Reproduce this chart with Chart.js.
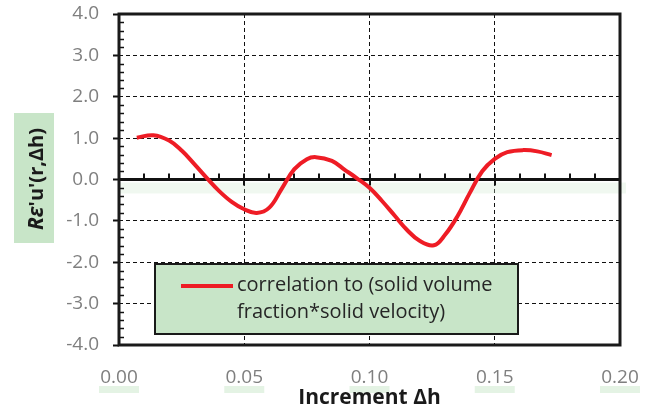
<!DOCTYPE html>
<html>
<head>
<meta charset="utf-8">
<script src="https://cdn.jsdelivr.net/npm/chart.js@4/dist/chart.umd.min.js"></script>
<style>
  html, body { margin: 0; padding: 0; background: #fff; }
  #wrap { width: 657px; height: 411px; position: relative; }
</style>
</head>
<body>
<div id="wrap"><canvas id="c" width="657" height="411"></canvas></div>
<script>
// ---- data ----
const increments = [0.0071, 0.0137, 0.020, 0.025, 0.030, 0.035, 0.040, 0.045, 0.050, 0.055,
                    0.060, 0.065, 0.070, 0.075, 0.0786, 0.085, 0.090, 0.095, 0.100, 0.105,
                    0.110, 0.115, 0.120, 0.1257, 0.130, 0.135, 0.140, 0.145, 0.150, 0.155,
                    0.1614, 0.167, 0.1727];
const correlation = [1.01, 1.07, 0.94, 0.70, 0.38, 0.04, -0.28, -0.54, -0.72, -0.81,
                     -0.68, -0.22, 0.25, 0.49, 0.54, 0.45, 0.24, 0.03, -0.20, -0.52,
                     -0.87, -1.22, -1.48, -1.59, -1.35, -0.90, -0.33, 0.20, 0.50, 0.66,
                     0.71, 0.68, 0.59];
const xTicks = [0.00, 0.05, 0.10, 0.15, 0.20];
const yTicks = [-4, -3, -2, -1, 0, 1, 2, 3, 4];
const seriesLabel = ['correlation to (solid volume', 'fraction*solid velocity)'];
const xTitle = 'Increment Δh';
const yTitleItalic = 'Rε';
const yTitleRest = "'u'(r,Δh)";

const FONT = "'Open Sans', 'Liberation Sans', sans-serif";
const GREEN = '#c8e5c8';
const RED = '#ee1c25';

const points = increments.map((x, i) => ({ x: x, y: correlation[i] }));

const decor = {
  id: 'decor',
  beforeDraw(chart) {
    const ctx = chart.ctx;
    const xs = chart.scales.x;
    ctx.save();
    // faint green glow below x tick labels
    ctx.fillStyle = 'rgba(195,228,195,0.45)';
    xTicks.forEach(v => {
      const px = xs.getPixelForValue(v);
      ctx.fillRect(px - 20, 386, 40, 7);
    });
    // y-axis title box
    ctx.fillStyle = GREEN;
    ctx.fillRect(14, 113, 40, 130);
    ctx.restore();
  },
  beforeDatasetsDraw(chart) {
    const ctx = chart.ctx;
    const xs = chart.scales.x, ys = chart.scales.y;
    const a = chart.chartArea;
    ctx.save();
    const y0 = ys.getPixelForValue(0);
    // faint green glow under zero line
    ctx.fillStyle = 'rgba(205,232,205,0.3)';
    ctx.fillRect(a.left, y0 + 3, a.right - a.left + 6, 11);
    // zero axis
    ctx.strokeStyle = '#111';
    ctx.lineWidth = 3;
    ctx.beginPath();
    ctx.moveTo(a.left, y0); ctx.lineTo(a.right, y0);
    ctx.stroke();
    // minor ticks on zero axis every 0.01
    ctx.lineWidth = 2;
    for (let k = 1; k < 20; k++) {
      const v = k / 100;
      const px = Math.round(xs.getPixelForValue(v));
      ctx.beginPath();
      if (k % 5 === 0) { ctx.moveTo(px, y0 - 6); ctx.lineTo(px, y0 + 6); }
      else { ctx.moveTo(px, y0 - 6); ctx.lineTo(px, y0); }
      ctx.stroke();
    }
    // minor ticks on y axis every 0.2
    ctx.lineWidth = 1.5;
    for (let k = -20; k <= 20; k++) {
      if (k % 5 === 0) continue;
      const py = Math.round(ys.getPixelForValue(k / 5)) + 0.5;
      ctx.beginPath();
      ctx.moveTo(a.left, py); ctx.lineTo(a.left + 5, py);
      ctx.stroke();
    }
    // frame
    ctx.strokeStyle = '#1a1a1a';
    ctx.lineWidth = 3;
    ctx.strokeRect(a.left, a.top, a.right - a.left, a.bottom - a.top);
    ctx.restore();
  },
  afterDatasetsDraw(chart) {
    const ctx = chart.ctx;
    ctx.save();
    // legend box
    ctx.fillStyle = GREEN;
    ctx.fillRect(155, 264, 363, 70);
    ctx.strokeStyle = '#1a1a1a';
    ctx.lineWidth = 2;
    ctx.strokeRect(155, 264, 363, 70);
    ctx.strokeStyle = RED;
    ctx.lineWidth = 4;
    ctx.beginPath();
    ctx.moveTo(181, 286); ctx.lineTo(233, 286);
    ctx.stroke();
    ctx.fillStyle = '#262626';
    ctx.font = "20px " + FONT;
    ctx.textBaseline = 'middle';
    ctx.textAlign = 'left';
    ctx.fillText(seriesLabel[0], 237, 285);
    ctx.fillText(seriesLabel[1], 237, 312);
    // y title (rotated)
    ctx.translate(37, 179);
    ctx.rotate(-Math.PI / 2);
    ctx.fillStyle = '#1a1a1a';
    ctx.textBaseline = 'middle';
    const fI = "italic bold 21px " + FONT;
    const fR = "bold 20px " + FONT;
    ctx.font = fI; const w1 = ctx.measureText(yTitleItalic).width;
    ctx.font = fR; const w2 = ctx.measureText(yTitleRest).width;
    let sx = -(w1 + w2) / 2;
    ctx.font = fI; ctx.textAlign = 'left';
    ctx.fillText(yTitleItalic, sx, 0);
    ctx.font = fR;
    ctx.fillText(yTitleRest, sx + w1, 0);
    ctx.restore();
  }
};

function zeroPad(s) { s.paddingTop = 0; s.paddingBottom = 0; s.paddingLeft = 0; s.paddingRight = 0; }

new Chart(document.getElementById('c'), {
  type: 'line',
  data: {
    datasets: [{
      label: seriesLabel.join(' '),
      data: points,
      borderColor: RED,
      borderWidth: 4,
      pointRadius: 0,
      fill: false,
      tension: 0.4
    }]
  },
  options: {
    responsive: false,
    animation: false,
    devicePixelRatio: 1,
    layout: { padding: { left: 0, right: 37, top: 14, bottom: 0 } },
    plugins: { legend: { display: false }, tooltip: { enabled: false } },
    scales: {
      x: {
        type: 'linear',
        min: 0, max: 0.2,
        afterBuildTicks(s) { s.ticks = xTicks.map(v => ({ value: v })); },
        afterFit(s) { s.height = 66; zeroPad(s); },
        ticks: {
          callback: v => Number(v).toFixed(2),
          color: '#7f7f7f',
          font: { family: FONT, size: 19 },
          padding: 21,
          maxRotation: 0
        },
        grid: {
          drawTicks: false,
          color: c => (c.tick && (c.tick.value === 0 || c.tick.value === 0.2)) ? 'rgba(0,0,0,0)' : '#111',
          lineWidth: 1
        },
        border: { display: false, dash: [4, 3] },
        title: {
          display: true,
          text: xTitle,
          color: '#1a1a1a',
          font: { family: FONT, size: 21, weight: 'bold' },
          padding: { top: 0, bottom: 0 }
        }
      },
      y: {
        min: -4, max: 4,
        afterBuildTicks(s) { s.ticks = yTicks.map(v => ({ value: v })); },
        afterFit(s) { s.width = 119; zeroPad(s); },
        ticks: {
          callback: v => Number(v).toFixed(1),
          color: '#7f7f7f',
          font: { family: FONT, size: 19 },
          padding: 14
        },
        grid: {
          drawTicks: true,
          tickLength: 6,
          tickColor: '#111',
          tickWidth: 2,
          color: c => (c.tick && (c.tick.value === 0 || Math.abs(c.tick.value) === 4)) ? 'rgba(0,0,0,0)' : '#111',
          lineWidth: 1
        },
        border: { display: false, dash: [4, 3] }
      }
    }
  },
  plugins: [decor]
});
</script>
</body>
</html>
